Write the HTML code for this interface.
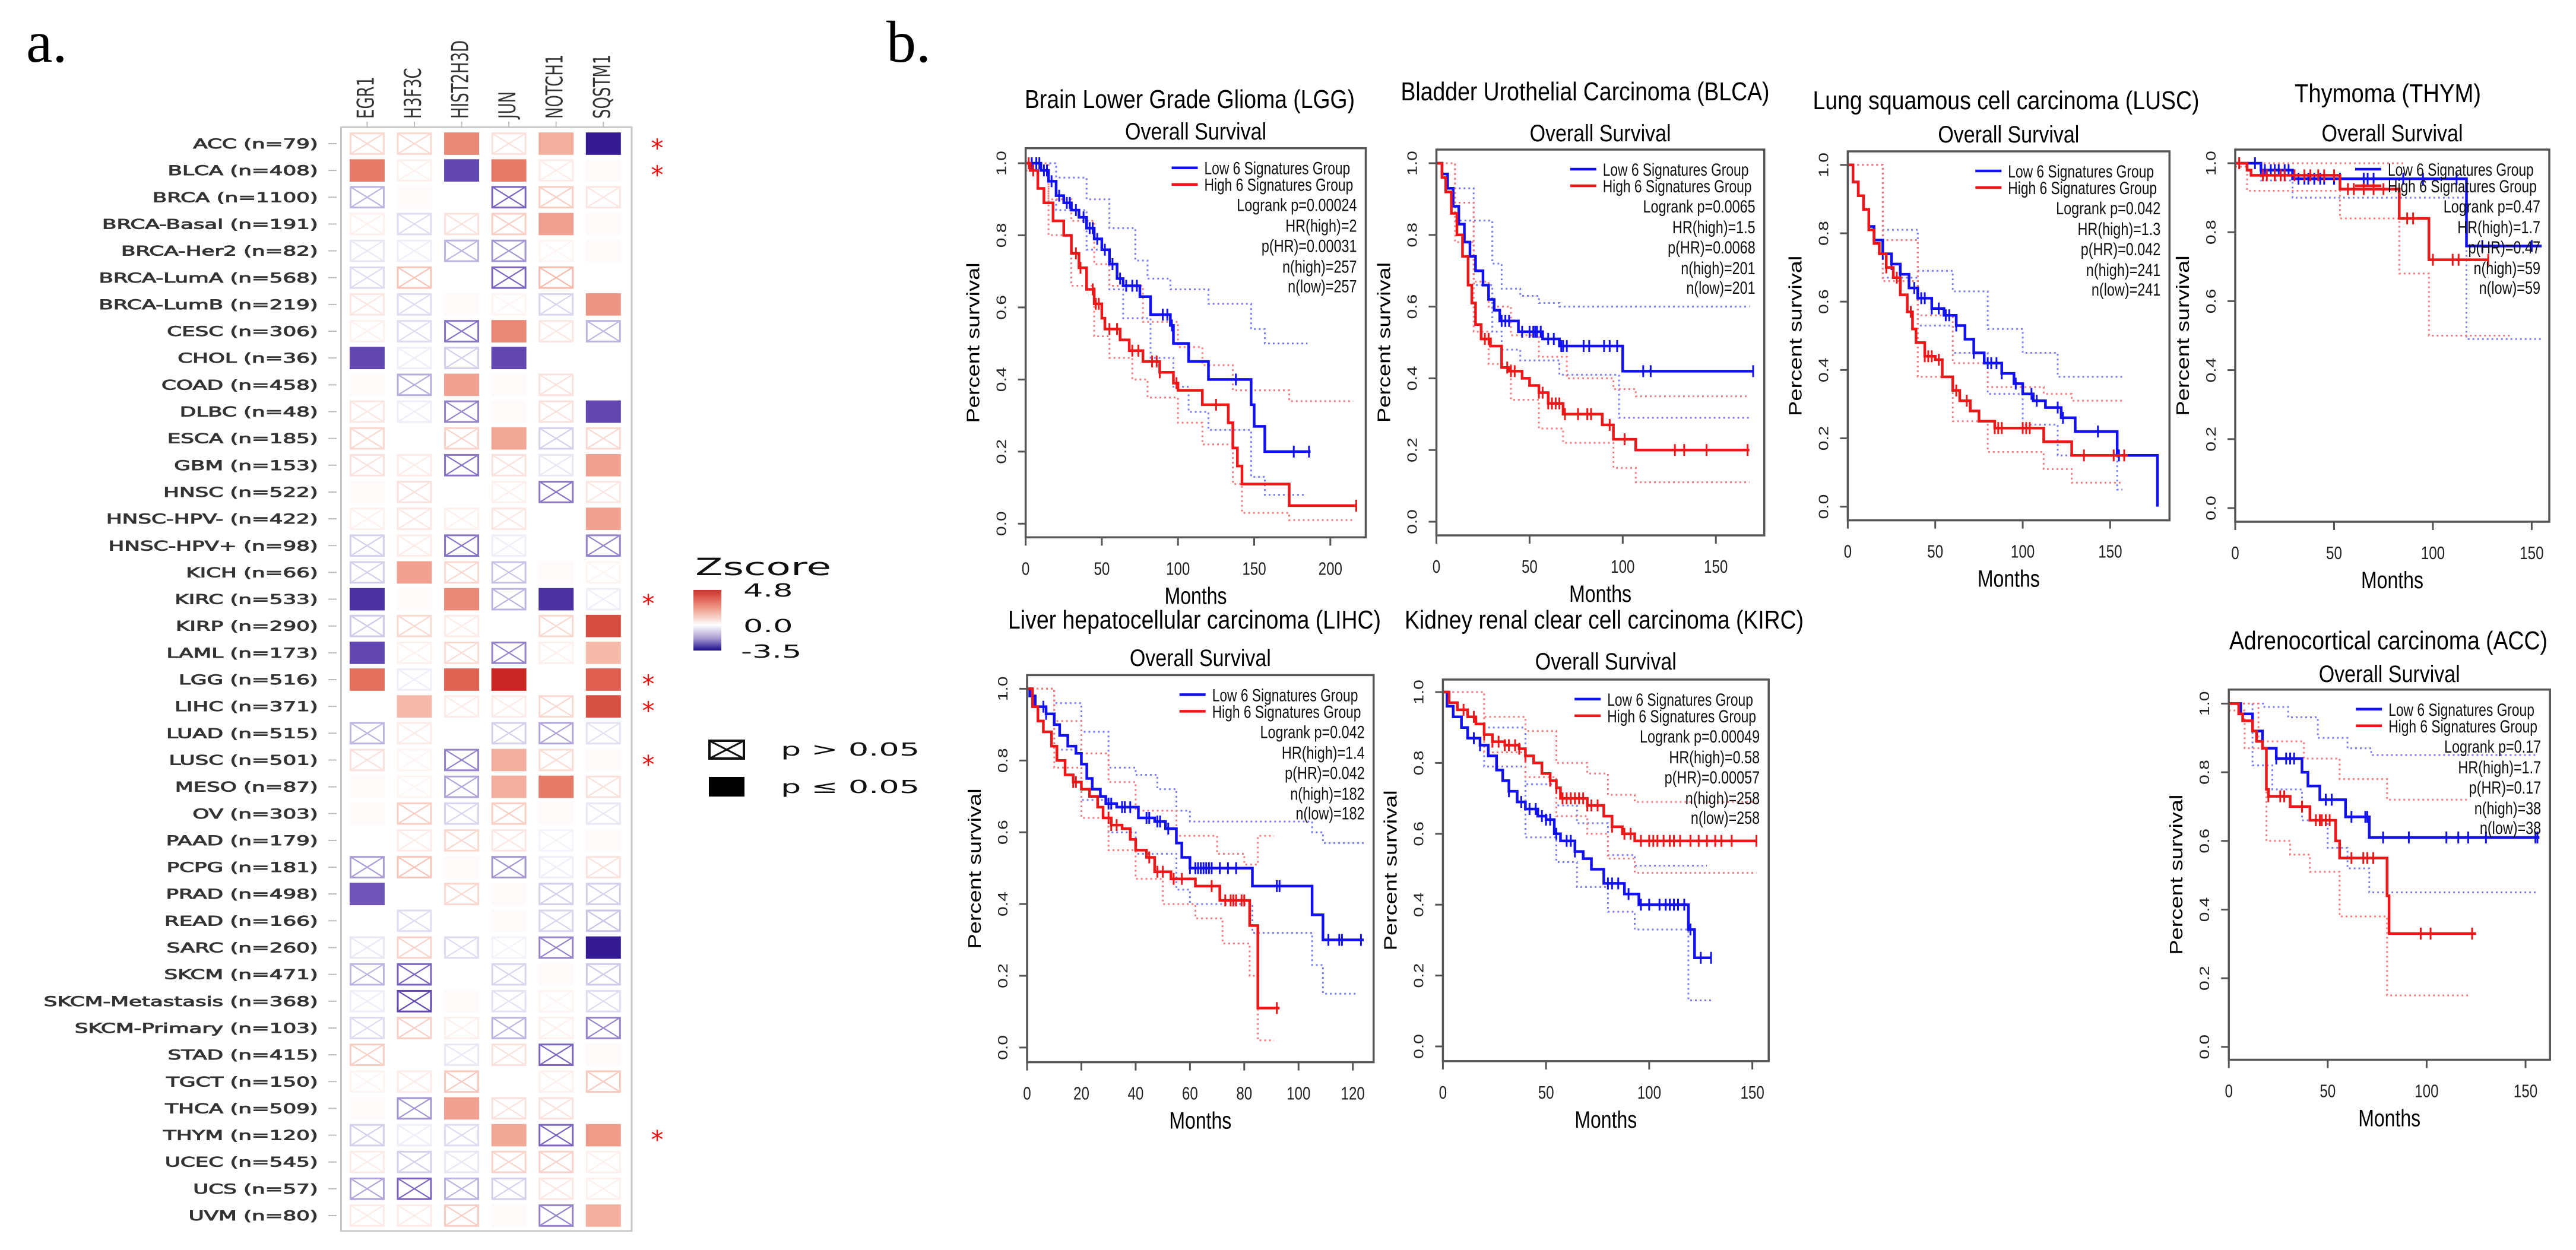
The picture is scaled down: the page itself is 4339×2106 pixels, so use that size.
<!DOCTYPE html>
<html><head><meta charset="utf-8"><style>
html,body{margin:0;padding:0;background:#fff;}
svg{display:block;}
</style></head><body>
<svg id="fig" xmlns="http://www.w3.org/2000/svg" width="4339" height="2106" viewBox="0 0 4339 2106">
<defs>
<linearGradient id="zgrad" x1="0" y1="0" x2="0" y2="1">
<stop offset="0" stop-color="#d2312b"/><stop offset="0.3" stop-color="#ee9a88"/><stop offset="0.58" stop-color="#ffffff"/><stop offset="0.8" stop-color="#a79ad2"/><stop offset="1" stop-color="#1a0a8a"/>
</linearGradient>
</defs>
<rect x="0" y="0" width="4339" height="2106" fill="#fff"/>
<text x="44" y="104" font-family="Liberation Serif, serif" font-size="100" fill="#000">a.</text>
<text x="1493" y="104" font-family="Liberation Serif, serif" font-size="100" fill="#000">b.</text>
<g id="heat"></g>
<g id="km"></g>
</svg>
<script>
// ---------- Heatmap data ----------
const genes=["EGR1","H3F3C","HIST2H3D","JUN","NOTCH1","SQSTM1"];
const cancers=["ACC (n=79)","BLCA (n=408)","BRCA (n=1100)","BRCA-Basal (n=191)","BRCA-Her2 (n=82)","BRCA-LumA (n=568)","BRCA-LumB (n=219)","CESC (n=306)","CHOL (n=36)","COAD (n=458)","DLBC (n=48)","ESCA (n=185)","GBM (n=153)","HNSC (n=522)","HNSC-HPV- (n=422)","HNSC-HPV+ (n=98)","KICH (n=66)","KIRC (n=533)","KIRP (n=290)","LAML (n=173)","LGG (n=516)","LIHC (n=371)","LUAD (n=515)","LUSC (n=501)","MESO (n=87)","OV (n=303)","PAAD (n=179)","PCPG (n=181)","PRAD (n=498)","READ (n=166)","SARC (n=260)","SKCM (n=471)","SKCM-Metastasis (n=368)","SKCM-Primary (n=103)","STAD (n=415)","TGCT (n=150)","THCA (n=509)","THYM (n=120)","UCEC (n=545)","UCS (n=57)","UVM (n=80)"];
const zscores=[
[0.8,0.8,2.2,0.6,1.6,-3.4],[2.4,0.3,-2.6,2.4,0.4,0.1],[-1.2,0.1,0,-2.2,1.0,0.5],[0.3,-0.6,0.6,1.0,1.8,0.1],
[-0.4,-0.3,-1.2,-1.6,0.2,0.1],[-0.6,1.2,0,-2.2,1.4,0],[0.5,-0.6,0.1,0.2,-0.7,2.0],[0.3,-0.6,-2.0,2.2,0.5,-1.2],
[-2.6,-0.3,-0.8,-2.6,0,0],[0.1,-1.3,1.8,0.1,0.6,0],[0.5,-0.3,-1.8,0.1,0.6,-2.6],[0.8,0,0.9,1.7,-0.8,0.8],
[0.6,0.4,-2.0,0.6,-0.4,1.8],[0.1,0.6,0,0.3,-2.0,0.5],[0.3,0.5,0.3,0.5,0,1.8],[-0.8,0.4,-2.0,-0.3,0,-1.8],
[-0.8,1.8,0.8,-1.0,0.1,0.2],[-3.0,0.1,2.2,-1.2,-3.0,-0.3],[-0.9,0.8,0.4,0,0.8,3.5],[-2.6,0.3,0.7,-1.8,0.3,1.4],
[2.6,-0.3,2.9,4.5,0,3.0],[0,1.4,0.4,0.4,0.8,3.4],[-1.2,0.4,0,-0.8,-1.4,-0.5],[0.6,0.2,-1.8,1.6,0.7,0.1],
[0.1,0.2,-1.4,1.6,2.4,0.6],[0.1,1.0,-0.7,1.0,0.1,-0.4],[0,0.4,0.8,0.5,-0.2,0.1],[-1.5,1.2,0.1,-1.6,-0.3,0.6],
[-2.4,0,0.8,0.1,-0.8,-0.8],[0,-0.6,0,0.1,-0.7,-1.0],[-0.4,0.9,-0.6,-0.2,-1.8,-3.4],[-1.2,-2.2,0,-0.7,0.1,-0.9],
[-0.3,-2.6,0.1,-0.5,0.2,-0.6],[-0.6,1.0,0.3,-1.2,0.3,-1.8],[1.0,0,-0.4,0.6,-2.2,0.1],[0.2,0.4,1.1,0,0.3,1.1],
[0.1,-1.6,1.8,0.6,0.6,0],[-0.8,-0.3,-0.6,1.7,-2.2,1.9],[0.4,-0.8,-0.4,0.9,0.9,0.3],[-1.4,-2.2,-1.2,-0.8,0.5,0.3],
[0.4,0.4,1.0,0.1,-1.8,1.6]];
// 1 = p<=0.05 (filled), 0 = p>0.05 (crossed), -1 = near-zero blank
const significance=[
[0,0,1,0,1,1],[1,0,1,1,0,-1],[0,-1,-1,0,0,0],[0,0,0,0,1,-1],[0,0,0,0,0,-1],[0,0,-1,0,0,-1],[0,0,-1,0,0,1],
[0,0,0,1,0,0],[1,0,0,1,-1,-1],[-1,0,1,-1,0,-1],[0,0,0,-1,0,1],[0,-1,0,1,0,0],[0,0,0,0,0,1],[-1,0,-1,0,0,0],
[0,0,0,0,-1,1],[0,0,0,0,-1,0],[0,1,0,0,-1,0],[1,-1,1,0,1,0],[0,0,0,-1,0,1],[1,0,0,0,0,1],[1,0,1,1,-1,1],
[-1,1,0,0,0,1],[0,0,-1,0,0,0],[0,0,0,1,0,-1],[-1,0,0,1,1,0],[-1,0,0,0,-1,0],[-1,0,0,0,0,-1],[0,0,-1,0,0,0],
[1,-1,0,-1,0,0],[-1,0,-1,-1,0,0],[0,0,0,0,0,1],[0,0,-1,0,-1,0],[0,0,-1,0,0,0],[0,0,0,0,0,0],[0,-1,0,0,0,-1],
[0,0,0,-1,0,0],[-1,0,1,0,0,-1],[0,0,0,1,0,1],[0,0,0,0,0,0],[0,0,0,0,0,0],[0,0,0,-1,0,1]];
const starRows=[0,1,17,20,21,23,37];
const zTicks=["4.8","0.0","-3.5"];

// ---------- Survival data: [months, survival] step points ----------
const lggLow=[[0,1],[10,0.98],[15,0.95],[20,0.91],[25,0.89],[30,0.87],[35,0.85],[40,0.82],[45,0.79],[50,0.76],[55,0.72],[60,0.68],[64,0.66],[75,0.63],[82,0.58],[95,0.55],[97,0.50],[107,0.45],[120,0.40],[148,0.33],[150,0.27],[157,0.20],[187,0.20]];
const lggHigh=[[0,1],[3,0.98],[8,0.93],[12,0.89],[18,0.84],[25,0.80],[30,0.75],[35,0.71],[40,0.65],[45,0.61],[50,0.57],[52,0.54],[62,0.51],[68,0.48],[77,0.45],[88,0.42],[97,0.39],[100,0.37],[116,0.33],[133,0.28],[136,0.21],[139,0.16],[142,0.11],[173,0.05],[217,0.05]];
const lggLowCens=[4,7,9,12,14,17,22,27,29,33,38,42,44,47,52,57,62,66,70,73,90,93,96,138,176,186];
const lggHighCens=[2,5,33,36,44,46,48,55,60,70,74,83,86,88,99,125,217];
const lggLowUp=[[0,1],[20,0.96],[40,0.9],[55,0.82],[72,0.73],[80,0.68],[95,0.65],[120,0.61],[148,0.54],[157,0.5],[185,0.5]];
const lggLowLo=[[0,1],[20,0.87],[40,0.76],[55,0.65],[64,0.57],[82,0.46],[97,0.38],[107,0.31],[120,0.26],[148,0.13],[157,0.08],[183,0.08]];
const lggHighUp=[[0,1],[15,0.9],[30,0.84],[45,0.72],[55,0.66],[77,0.56],[100,0.49],[116,0.44],[136,0.37],[173,0.34],[215,0.34]];
const lggHighLo=[[0,0.98],[15,0.8],[30,0.66],[45,0.52],[55,0.46],[70,0.40],[80,0.35],[100,0.28],[116,0.22],[136,0.11],[142,0.03],[173,0.01],[215,0.01]];

const blcaLow=[[0,1],[3,0.97],[6,0.93],[9,0.88],[12,0.83],[15,0.78],[18,0.74],[21,0.70],[25,0.66],[28,0.62],[31,0.59],[34,0.56],[44,0.53],[57,0.51],[66,0.49],[100,0.42],[170,0.42]];
const blcaHigh=[[0,1],[3,0.96],[5,0.92],[8,0.86],[11,0.80],[14,0.74],[17,0.66],[19,0.61],[21,0.55],[24,0.51],[29,0.49],[35,0.43],[39,0.42],[46,0.40],[50,0.38],[55,0.36],[60,0.33],[68,0.30],[89,0.27],[95,0.23],[107,0.20],[168,0.20]];
const blcaLowCens=[35,37,39,46,50,52,53,54,56,60,63,67,68,70,79,82,90,93,97,111,115,170];
const blcaHighCens=[26,28,38,40,42,55,57,60,62,64,66,69,76,81,83,93,101,128,133,145,167];
const blcaLowUp=[[0,1],[10,0.93],[20,0.84],[30,0.72],[35,0.65],[45,0.63],[55,0.61],[66,0.6],[168,0.6]];
const blcaLowLo=[[0,1],[10,0.84],[20,0.66],[30,0.53],[35,0.48],[45,0.45],[66,0.41],[98,0.29],[168,0.29]];
const blcaHighUp=[[0,1],[10,0.89],[20,0.67],[28,0.6],[40,0.52],[55,0.46],[70,0.4],[95,0.37],[107,0.35],[168,0.35]];
const blcaHighLo=[[0,1],[10,0.78],[20,0.53],[28,0.44],[40,0.34],[55,0.26],[68,0.22],[95,0.15],[107,0.11],[168,0.11]];

const luscLow=[[0,1],[3,0.95],[6,0.91],[9,0.87],[12,0.82],[15,0.78],[20,0.74],[25,0.71],[30,0.68],[35,0.64],[40,0.61],[48,0.58],[55,0.56],[62,0.53],[67,0.49],[72,0.45],[78,0.42],[88,0.39],[95,0.36],[100,0.33],[106,0.31],[113,0.29],[122,0.26],[130,0.22],[154,0.15],[177,0.0]];
const luscHigh=[[0,1],[3,0.95],[6,0.91],[9,0.87],[12,0.81],[15,0.77],[18,0.74],[22,0.70],[26,0.67],[30,0.62],[34,0.57],[37,0.52],[39,0.48],[44,0.44],[50,0.43],[54,0.38],[60,0.34],[64,0.31],[70,0.28],[75,0.25],[84,0.23],[112,0.19],[128,0.15],[160,0.15]];
const luscLowCens=[20,25,30,38,42,44,48,52,56,58,62,72,80,82,85,88,96,105,108,120,123,143,155];
const luscHighCens=[22,28,36,44,46,48,52,62,68,84,86,88,100,102,104,135,152,158];
const luscLowUp=[[0,1],[20,0.81],[40,0.69],[60,0.63],[80,0.52],[100,0.45],[120,0.38],[157,0.38]];
const luscLowLo=[[0,1],[20,0.67],[40,0.53],[60,0.45],[80,0.33],[100,0.24],[120,0.15],[154,0.05],[157,0.05]];
const luscHighUp=[[0,1],[20,0.78],[40,0.56],[60,0.42],[80,0.35],[112,0.33],[128,0.31],[157,0.31]];
const luscHighLo=[[0,1],[20,0.66],[40,0.38],[60,0.25],[80,0.16],[112,0.11],[128,0.07],[157,0.07]];

const thymLow=[[0,1],[13,0.98],[29,0.955],[117,0.76],[155,0.76]];
const thymHigh=[[0,1],[6,0.98],[8,0.965],[53,0.925],[83,0.84],[98,0.72],[128,0.72]];
const thymLowCens=[10,13,15,18,20,22,25,27,32,35,37,40,43,45,50,53,65,67,70,85,95,112,125,150];
const thymHighCens=[2,14,16,20,23,25,30,35,38,42,45,50,57,60,65,70,75,87,90,100,110,113,128];
const thymLowUp=[[0,1],[40,1]];
const thymLowLo=[[0,1],[13,0.95],[29,0.9],[117,0.49],[155,0.49]];
const thymHighUp=[[0,1],[85,1]];
const thymHighLo=[[0,0.99],[6,0.92],[53,0.84],[83,0.68],[98,0.5],[140,0.5]];

const lihcLow=[[0,1],[1,0.98],[3,0.95],[7,0.93],[10,0.9],[12,0.87],[15,0.84],[18,0.82],[20,0.79],[22,0.75],[24,0.72],[27,0.7],[29,0.68],[33,0.67],[41,0.64],[47,0.63],[51,0.61],[55,0.57],[57,0.53],[60,0.50],[83,0.45],[105,0.37],[109,0.30],[124,0.30]];
const lihcHigh=[[0,1],[2,0.95],[4,0.91],[6,0.88],[9,0.84],[11,0.80],[14,0.76],[17,0.74],[20,0.72],[23,0.70],[26,0.67],[28,0.64],[31,0.62],[35,0.61],[38,0.58],[40,0.55],[44,0.53],[47,0.49],[53,0.47],[62,0.45],[71,0.41],[82,0.34],[85,0.11],[93,0.11]];
const lihcLowCens=[6,7,30,31,35,36,38,44,45,48,49,52,60,62,63,64,65,66,67,68,71,74,77,92,93,111,115,116,123];
const lihcHighCens=[17,18,30,31,33,45,48,50,54,57,68,73,75,76,77,79,80,92];
const lihcLowUp=[[0,1],[10,0.96],[20,0.88],[30,0.78],[40,0.76],[48,0.72],[55,0.66],[60,0.63],[83,0.63],[105,0.60],[109,0.57],[124,0.57]];
const lihcLowLo=[[0,1],[10,0.83],[20,0.69],[30,0.6],[40,0.54],[55,0.44],[60,0.4],[83,0.32],[105,0.23],[109,0.15],[122,0.15]];
const lihcHighUp=[[0,1],[10,0.91],[20,0.82],[30,0.74],[40,0.66],[55,0.59],[70,0.54],[80,0.51],[85,0.59],[91,0.59]];
const lihcHighLo=[[0,1],[10,0.78],[20,0.64],[30,0.55],[40,0.47],[50,0.4],[62,0.36],[72,0.29],[82,0.2],[85,0.02],[91,0.02]];

const kircLow=[[0,1],[2,0.96],[5,0.93],[9,0.90],[12,0.87],[18,0.85],[22,0.82],[26,0.78],[29,0.75],[32,0.72],[36,0.69],[40,0.67],[46,0.65],[50,0.64],[54,0.6],[57,0.58],[64,0.55],[68,0.53],[72,0.5],[78,0.46],[88,0.43],[95,0.40],[119,0.33],[122,0.25],[130,0.25]];
const kircHigh=[[0,1],[3,0.97],[7,0.95],[12,0.93],[16,0.91],[20,0.88],[24,0.86],[30,0.85],[37,0.84],[40,0.82],[44,0.80],[48,0.77],[52,0.75],[55,0.73],[57,0.70],[70,0.68],[78,0.65],[82,0.62],[87,0.60],[93,0.58],[152,0.58]];
const kircLowCens=[15,18,32,38,42,45,48,50,52,55,60,62,64,80,82,85,90,96,100,105,108,110,112,114,117,120,125,130];
const kircHighCens=[10,15,20,24,27,30,32,35,37,40,52,55,58,60,62,64,66,68,70,72,75,82,88,91,96,100,102,104,107,110,112,115,120,124,128,132,135,140,152];
const kircLowUp=[[0,1],[20,0.9],[40,0.74],[55,0.68],[65,0.63],[80,0.54],[93,0.51],[128,0.51]];
const kircLowLo=[[0,1],[20,0.79],[40,0.59],[55,0.52],[65,0.45],[80,0.38],[93,0.33],[119,0.13],[130,0.13]];
const kircHighUp=[[0,1],[20,0.93],[40,0.89],[55,0.8],[70,0.77],[80,0.71],[93,0.69],[152,0.69]];
const kircHighLo=[[0,1],[20,0.83],[40,0.76],[55,0.65],[70,0.6],[80,0.53],[93,0.49],[152,0.49]];

const accLow=[[0,1],[6,0.97],[12,0.92],[17,0.87],[24,0.84],[37,0.8],[40,0.76],[46,0.72],[59,0.67],[71,0.61],[157,0.61]];
const accHigh=[[0,1],[5,0.97],[7,0.95],[12,0.92],[14,0.89],[17,0.87],[19,0.75],[20,0.73],[31,0.70],[41,0.66],[54,0.60],[56,0.55],[80,0.44],[81,0.33],[125,0.33]];
const accLowCens=[24,29,31,33,49,52,62,69,70,78,91,110,116,121,130,155,156];
const accHighCens=[20,26,28,37,44,46,47,49,51,62,68,70,73,97,102,123];
const accLowUp=[[0,1],[18,0.99],[30,0.96],[45,0.9],[60,0.87],[72,0.85],[156,0.85]];
const accLowLo=[[0,1],[12,0.82],[22,0.75],[37,0.66],[50,0.58],[60,0.52],[71,0.45],[156,0.45]];
const accHighUp=[[0,1],[15,0.89],[38,0.84],[56,0.78],[80,0.72],[122,0.72]];
const accHighLo=[[0,0.98],[8,0.87],[19,0.6],[31,0.56],[41,0.51],[56,0.38],[80,0.15],[122,0.15]];

const yTicks=[0,0.2,0.4,0.6,0.8,1.0];

const NS="http://www.w3.org/2000/svg";
function mk(tag,attrs,parent){const e=document.createElementNS(NS,tag);for(const k in attrs)e.setAttribute(k,attrs[k]);parent.appendChild(e);return e;}
function txt(parent,x,y,str,size,family,anchor,sx,rot,fill,weight,stroke){
  const g=mk('g',{transform:`translate(${x},${y}) scale(${sx},1)`+(rot?` rotate(${rot})`:'')},parent);
  const a={x:0,y:0,'font-size':size,'font-family':family,'text-anchor':anchor,fill:fill||'#000','font-weight':weight||'normal'};
  if(stroke){a.stroke=fill;a['stroke-width']=stroke;}
  const t=mk('text',a,g);
  t.textContent=str;return t;
}
function lerp(a,b,t){return a+(b-a)*t;}
function hex(c){return [parseInt(c.substr(1,2),16),parseInt(c.substr(3,2),16),parseInt(c.substr(5,2),16)];}
function ramp(stops,t){for(let i=1;i<stops.length;i++){if(t<=stops[i][0]){const u=(t-stops[i-1][0])/(stops[i][0]-stops[i-1][0]);const a=hex(stops[i-1][1]),b=hex(stops[i][1]);return `rgb(${Math.round(lerp(a[0],b[0],u))},${Math.round(lerp(a[1],b[1],u))},${Math.round(lerp(a[2],b[2],u))})`;}}return stops[stops.length-1][1];}
const redStops=[[0,'#ffffff'],[0.3,'#f6b8a8'],[0.55,'#e36c5a'],[1,'#c21b1b']];
const blueStops=[[0,'#ffffff'],[0.3,'#c8c0e6'],[0.7,'#6a50b4'],[1,'#2e1490']];
function zcolor(v){return v>=0?ramp(redStops,Math.min(1,v/4.8)):ramp(blueStops,Math.min(1,-v/3.5));}

// ---------- Heatmap ----------
const H=document.getElementById('heat');
const pitch=45.15;
const hx0=574.5,hy0=214.5,hw=489.5,hh=242+40*pitch+26-214.5;
const colX=i=>618.4+i*79.58;
const rowY=j=>242+j*pitch;
const DJ='DejaVu Sans, Liberation Sans, sans-serif';
const frame=mk('rect',{x:hx0,y:hy0,width:hw,height:hh,fill:'none',stroke:'#c8c8c8','stroke-width':3},H);


genes.forEach((g,i)=>{
  const x=colX(i);
  mk('line',{x1:x,y1:205,x2:x,y2:hy0,stroke:'#bbb','stroke-width':2},H);
  const t=txt(H,x+11,200,g,26,DJ,'start',1.5,-90,'#333');
  
  
});
cancers.forEach((c,j)=>{
  const y=rowY(j);
  mk('line',{x1:553,y1:y,x2:567,y2:y,stroke:'#bbb','stroke-width':2},H);
  const t=txt(H,535.7,y+8,c,22,DJ,'end',1.62,0,'#333','normal',0.9);
  
  
  genes.forEach((g,i)=>{
    const v=zscores[j][i],s=significance[j][i],col=zcolor(v);
    const cx=colX(i),cw=59,ch=37.7,x=cx-cw/2,yy=y-ch/2;
    const cg=mk('g',{},H);
    
    
    if(s===1||s===-1){mk('rect',{x:x,y:yy,width:cw,height:ch,fill:col},cg);}
    else{
      mk('rect',{x:x+1.5,y:yy+1.5,width:cw-3,height:ch-3,fill:'none',stroke:col,'stroke-width':3},cg);
      mk('line',{x1:x+1.5,y1:yy+1.5,x2:x+cw-1.5,y2:yy+ch-1.5,stroke:col,'stroke-width':2.2},cg);
      mk('line',{x1:x+cw-1.5,y1:yy+1.5,x2:x+1.5,y2:yy+ch-1.5,stroke:col,'stroke-width':2.2},cg);
    }
  });
});
starRows.forEach(j=>{
  const t=mk('text',{x:(j===0||j===1||j===37)?1107:1092,y:rowY(j)+22,'font-size':42,'font-family':DJ,'text-anchor':'middle',fill:'#ee1111'},H);
  t.textContent='*';
  
  
});
// legend
const zt=txt(H,1171,969,'Zscore',40,DJ,'start',1.7,0,'#111');


const cb=mk('rect',{x:1168,y:994,width:47,height:102,fill:'url(#zgrad)'},H);


[[1005,1252],[1065,1252],[1108,1248]].forEach((p,k)=>{const t=txt(H,p[1],p[0],zTicks[k],30,DJ,'start',1.75,0,'#111');
  
  });
const lg1=mk('g',{},H);


mk('rect',{x:1195,y:1248,width:58,height:30,fill:'none',stroke:'#111','stroke-width':4},lg1);
mk('line',{x1:1195,y1:1248,x2:1253,y2:1278,stroke:'#111','stroke-width':3},lg1);
mk('line',{x1:1253,y1:1248,x2:1195,y2:1278,stroke:'#111','stroke-width':3},lg1);
txt(lg1,1315,1273,'p > 0.05',30,DJ,'start',1.8,0,'#111');
const lg2=mk('g',{},H);


mk('rect',{x:1194,y:1309,width:60,height:33,fill:'#000'},lg2);
txt(lg2,1315,1336,'p ≤ 0.05',30,DJ,'start',1.8,0,'#111');

// ---------- KM plots ----------
const K=document.getElementById('km');
const LS='Liberation Sans, Arial, sans-serif';
const BLUE='#1010f0',RED='#ee1616',LBLUE='#7c7cf4',LRED='#f47c7c';
function survAt(c,t){let s=c[0][1];for(const p of c){if(p[0]<=t)s=p[1];}return s;}
function stepPath(c,X,Y){let d=`M${X(c[0][0])},${Y(c[0][1])}`;for(let i=1;i<c.length;i++){d+=` H${X(c[i][0])} V${Y(c[i][1])}`;}return d;}
const plots=[
 {name:'lgg',title:'Brain Lower Grade Glioma (LGG)',tw:556,tx:2004,ty:182,osy:235,box:[1727.6,249.7,2300.5,905.3],xa:[2240.8,200],xt:[0,50,100,150,200],ya:[882.3,275],
  low:lggLow,high:lggHigh,lc:lggLowCens,hc:lggHighCens,ci:[lggLowUp,lggLowLo,lggHighUp,lggHighLo],stats:['Logrank p=0.00024','HR(high)=2','p(HR)=0.00031','n(high)=257','n(low)=257']},
 {name:'blca',title:'Bladder Urothelial Carcinoma (BLCA)',tw:621,tx:2670,ty:169,osy:238,box:[2419.5,252,2971.7,902],xa:[2890.2,150],xt:[0,50,100,150],ya:[879,275],
  low:blcaLow,high:blcaHigh,lc:blcaLowCens,hc:blcaHighCens,ci:[blcaLowUp,blcaLowLo,blcaHighUp,blcaHighLo],stats:['Logrank p=0.0065','HR(high)=1.5','p(HR)=0.0068','n(high)=201','n(low)=201']},
 {name:'lusc',title:'Lung squamous cell carcinoma (LUSC)',tw:651,tx:3379,ty:184,osy:240,box:[3112.4,255,3654.3,876.6],xa:[3554.4,150],xt:[0,50,100,150],ya:[853.6,277.9],
  low:luscLow,high:luscHigh,lc:luscLowCens,hc:luscHighCens,ci:[luscLowUp,luscLowLo,luscHighUp,luscHighLo],stats:['Logrank p=0.042','HR(high)=1.3','p(HR)=0.042','n(high)=241','n(low)=241']},
 {name:'thym',title:'Thymoma  (THYM)',tw:314,tx:4022,ty:172,osy:238,box:[3765,252,4294,879],xa:[4264.4,150],xt:[0,50,100,150],ya:[856,275],
  low:thymLow,high:thymHigh,lc:thymLowCens,hc:thymHighCens,ci:[thymLowUp,thymLowLo,thymHighUp,thymHighLo],stats:['Logrank p=0.47','HR(high)=1.7','p(HR)=0.47','n(high)=59','n(low)=59']},
 {name:'lihc',title:'Liver hepatocellular carcinoma (LIHC)',tw:628,tx:2012,ty:1059,osy:1122,box:[1730,1137.4,2313.7,1789.6],xa:[2278.7,120],xt:[0,20,40,60,80,100,120],ya:[1764.9,1160.4],
  low:lihcLow,high:lihcHigh,lc:lihcLowCens,hc:lihcHighCens,ci:[lihcLowUp,lihcLowLo,lihcHighUp,lihcHighLo],stats:['Logrank p=0.042','HR(high)=1.4','p(HR)=0.042','n(high)=182','n(low)=182']},
 {name:'kirc',title:'Kidney renal clear cell carcinoma (KIRC)',tw:672,tx:2702,ty:1059,osy:1128,box:[2430.4,1144.9,2979.2,1787.8],xa:[2951.6,150],xt:[0,50,100,150],ya:[1763,1166],
  low:kircLow,high:kircHigh,lc:kircLowCens,hc:kircHighCens,ci:[kircLowUp,kircLowLo,kircHighUp,kircHighLo],stats:['Logrank p=0.00049','HR(high)=0.58','p(HR)=0.00057','n(high)=258','n(low)=258']},
 {name:'acc',title:'Adrenocortical carcinoma (ACC)',tw:536,tx:4023,ty:1094,osy:1149,box:[3754.2,1161.8,4295.2,1785.5],xa:[4254,150],xt:[0,50,100,150],ya:[1763.8,1185.4],
  low:accLow,high:accHigh,lc:accLowCens,hc:accHighCens,ci:[accLowUp,accLowLo,accHighUp,accHighLo],stats:['Logrank p=0.17','HR(high)=1.7','p(HR)=0.17','n(high)=38','n(low)=38']}
];
plots.forEach(p=>{
  const g=mk('g',{},K);
  
  
  const [bx0,by0,bx1,by1]=p.box;
  const X=t=>bx0+t*(p.xa[0]-bx0)/p.xa[1];
  const Y=s=>p.ya[0]+s*(p.ya[1]-p.ya[0]);
  const cx=(bx0+bx1)/2;
  const tt=mk('text',{x:p.tx,y:p.ty,'font-size':44,'font-family':LS,'text-anchor':'middle',textLength:p.tw,lengthAdjust:'spacingAndGlyphs',fill:'#000'},g);
  tt.textContent=p.title;
  
  
  const os=txt(g,cx,p.osy,'Overall Survival',40,LS,'middle',0.85,0,'#000');
  
  
  p.ci.forEach((c,k)=>{const e=mk('path',{d:stepPath(c,X,Y),fill:'none',stroke:k<2?LBLUE:LRED,'stroke-width':3,'stroke-dasharray':'3 5'},g);
    
    });
  [[p.low,p.lc,BLUE,'low'],[p.high,p.hc,RED,'high']].forEach(([c,cens,col,nm])=>{
    const e=mk('path',{d:stepPath(c,X,Y),fill:'none',stroke:col,'stroke-width':4.5},g);
    
    
    cens.forEach(t=>{const y=Y(survAt(c,t));const m=mk('line',{x1:X(t),y1:y-10,x2:X(t),y2:y+10,stroke:col,'stroke-width':3},g);
      
      });
  });
  const b=mk('rect',{x:bx0,y:by0,width:bx1-bx0,height:by1-by0,fill:'none',stroke:'#555','stroke-width':3.5},g);
  
  
  yTicks.forEach(v=>{const y=Y(v);mk('line',{x1:bx0-13,y1:y,x2:bx0,y2:y,stroke:'#555','stroke-width':3},g);
    const t=txt(g,bx0-33,y,v.toFixed(1),30,LS,'middle',0.78,-90,'#222');
    
    });
  const yl=txt(g,bx0-78,(by0+by1)/2,'Percent survival',38,LS,'middle',0.8,-90,'#000');
  
  
  p.xt.forEach(v=>{const x=X(v);mk('line',{x1:x,y1:by1,x2:x,y2:by1+14,stroke:'#555','stroke-width':3},g);
    const t=txt(g,x,by1+63,String(v),31,LS,'middle',0.78,0,'#222');
    
    });
  const xl=txt(g,cx,by1+112,'Months',40,LS,'middle',0.8,0,'#000');
  
  
  const lg=mk('g',{},g);
  
  
  mk('line',{x1:bx1-327,y1:by0+33,x2:bx1-283,y2:by0+33,stroke:BLUE,'stroke-width':4.5},lg);
  mk('line',{x1:bx1-327,y1:by0+61,x2:bx1-283,y2:by0+61,stroke:RED,'stroke-width':4.5},lg);
  txt(lg,bx1-272,by0+44,'Low 6 Signatures Group',30,LS,'start',0.76,0,'#111');
  txt(lg,bx1-272,by0+72,'High 6 Signatures Group',30,LS,'start',0.76,0,'#111');
  const offs=[95,130,164,199,232];
  p.stats.forEach((s,k)=>{txt(lg,bx1-15,by0+offs[k]+11,s,30,LS,'end',0.78,0,'#111');});
});
</script>
</body></html>
